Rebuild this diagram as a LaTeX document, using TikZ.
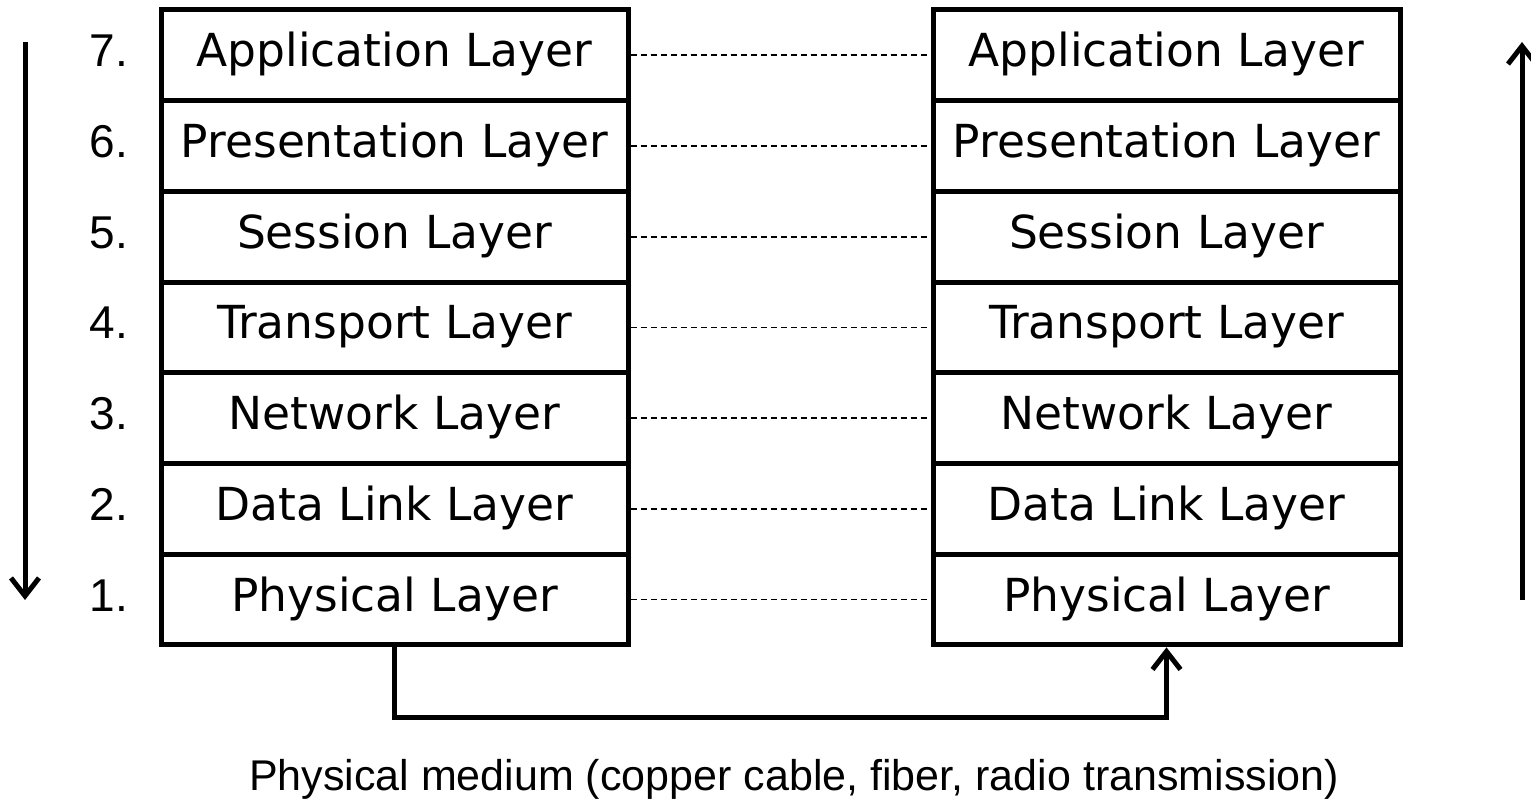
\documentclass[tikz,border=0pt]{standalone}
\usepackage{fontspec}
\setmainfont{DejaVu Sans}
\newfontfamily\arialfont{Liberation Sans}
\usetikzlibrary{arrows.meta}

\newlength{\du}
\setlength{\du}{1pt}

\tikzset{
  layerbox/.style={draw, line width=5\du, minimum width=467\du, minimum height=90.7\du,
    inner sep=0pt, text height=34.5\du, text depth=11.5\du, font=\fontsize{45.5}{55}\selectfont},
  layernum/.style={anchor=base east, inner sep=0pt, font=\arialfont\fontsize{46}{55}\selectfont},
  peerline/.style={line width=1.8\du, dash pattern=on 6\du off 4\du},
  flowarrow/.style={line width=5\du, -{Straight Barb[length=18pt,width=28pt]}},
}

\begin{document}
\begin{tikzpicture}[x=\du, y=-\du]
\useasboundingbox (0,0) rectangle (1531,800);
% the two stacks, sender on the left, receiver on the right
\foreach \n/\name in {7/Application,6/Presentation,5/Session,4/Transport,3/Network,2/Data Link,1/Physical}{
  \pgfmathsetmacro{\yy}{55.35+(7-\n)*90.7}
  \node[layerbox] (send\n) at (394.5,\yy) {\name\ Layer};
  \node[layerbox] (recv\n) at (1166.5,\yy) {\name\ Layer};
  \node[layernum] (num\n) at (128,\yy+11.5) {\n.};
  \draw[peerline] (send\n.east) -- (recv\n.west);
}
% direction of data flow
\coordinate (downtop) at (25,42);
\coordinate (downend) at (25,600);
\draw[flowarrow] (downtop) -- (downend);
\coordinate (upbottom) at (1522,600);
\coordinate (uptop) at (1522,42);
\draw[flowarrow] (upbottom) -- (uptop);
% physical medium
\draw[flowarrow] (send1.south) -- ++(0,70) -| (recv1.south);
\node[anchor=base, inner sep=0pt, font=\arialfont\fontsize{43}{52}\selectfont] (medium)
  at (794,790) {Physical medium (copper cable, fiber, radio transmission)};
\end{tikzpicture}
\end{document}
